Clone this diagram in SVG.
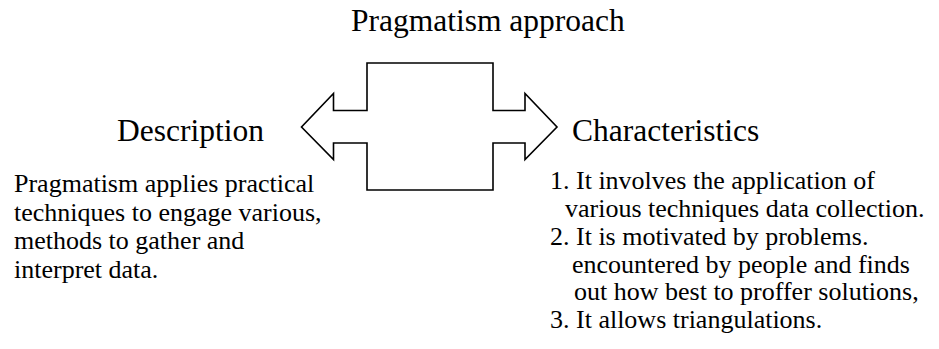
<svg xmlns="http://www.w3.org/2000/svg" width="939" height="349" viewBox="0 0 939 349">
<style>
text { font-family: "Liberation Serif", "DejaVu Serif", "Noto Serif", Tinos, "Times New Roman", Times, serif; fill: #000; }
.h { font-size: 31.5px; }
.b { font-size: 26px; }
.shape { fill: #fff; stroke: #000; stroke-width: 1.6; stroke-linejoin: miter; }
</style>
<rect width="939" height="349" fill="#fff"/>
<g id="title"><text class="h" x="351" y="31">Pragmatism approach</text></g>
<g id="double-arrow">
<path class="shape" d="M367,63 H493 V110.5 H525 V93.5 L557,127 L525,159.5 V143 H493 V190 H367 V143 H333.5 V159.5 L301.5,127 L333.5,93.5 V110.5 H367 Z"/>
</g>
<g id="description">
<text class="h" x="117" y="141">Description</text>
<text class="b" x="14" y="192">Pragmatism applies practical</text>
<text class="b" x="14" y="220.5">techniques to engage various,</text>
<text class="b" x="14" y="249">methods to gather and</text>
<text class="b" x="14" y="278">interpret data.</text>
</g>
<g id="characteristics">
<text class="h" x="572" y="141">Characteristics</text>
<text class="b" x="550" y="189">1. It involves the application of</text>
<text class="b" x="565" y="217">various techniques data collection.</text>
<text class="b" x="550" y="245">2. It is motivated by problems.</text>
<text class="b" x="572" y="272.5">encountered by people and finds</text>
<text class="b" x="574" y="300">out how best to proffer solutions,</text>
<text class="b" x="550" y="328">3. It allows triangulations.</text>
</g>
</svg>
